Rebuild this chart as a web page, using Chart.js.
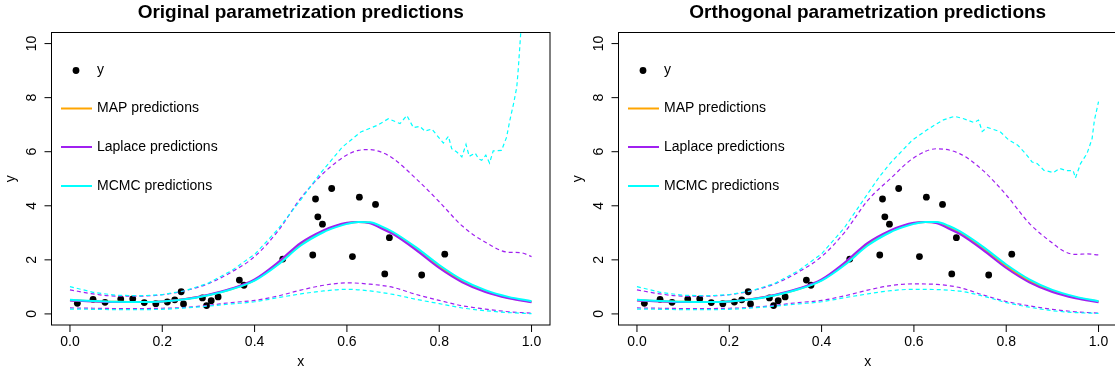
<!DOCTYPE html>
<html>
<head>
<meta charset="utf-8">
<script src="https://cdn.jsdelivr.net/npm/chart.js@4/dist/chart.umd.min.js"></script>
<style>
  html, body { margin: 0; padding: 0; background: #fff; overflow: hidden; }
  #wrap { position: relative; width: 1115px; height: 376px; overflow: hidden; background: #fff; }
  .panel { position: absolute; top: 0; width: 567px; height: 376px; }
</style>
</head>
<body>
<div id="wrap">
  <div class="panel" style="left:0"><canvas id="orig" width="567" height="376"></canvas></div>
  <div class="panel" style="left:567px"><canvas id="orth" width="567" height="376"></canvas></div>
</div>
<script>
// ---- observations ----
const obsX = [0.016, 0.050, 0.076, 0.110, 0.136, 0.161, 0.186, 0.211, 0.227, 0.241,
              0.246, 0.287, 0.296, 0.306, 0.321, 0.367, 0.377, 0.461, 0.526, 0.532,
              0.537, 0.547, 0.567, 0.612, 0.627, 0.662, 0.682, 0.692, 0.762, 0.812];
const obsY = [0.39, 0.54, 0.43, 0.55, 0.56, 0.42, 0.38, 0.44, 0.52, 0.82,
              0.37, 0.59, 0.31, 0.49, 0.63, 1.25, 1.06, 2.03, 2.18, 4.25,
              3.59, 3.32, 4.64, 2.12, 4.32, 4.05, 1.48, 2.82, 1.44, 2.21];

// ---- prediction grids ----
const gridX = [0, 0.05, 0.10, 0.15, 0.20, 0.25, 0.30, 0.35, 0.40, 0.45, 0.50,
               0.55, 0.60, 0.65, 0.70, 0.75, 0.80, 0.85, 0.90, 0.95, 1.00];
const meanX = [0, 0.05, 0.10, 0.15, 0.20, 0.25, 0.30, 0.35, 0.40, 0.45, 0.50, 0.55,
               0.575, 0.60, 0.625, 0.65, 0.675, 0.70, 0.75, 0.80, 0.85, 0.90, 0.95, 1.00];

// ---- original parametrization ----
const origMAP     = [0.51, 0.47, 0.45, 0.44, 0.46, 0.55, 0.70, 0.92, 1.25, 1.85, 2.58, 3.06,
                     3.23, 3.35, 3.40, 3.37, 3.20, 2.99, 2.41, 1.75, 1.21, 0.84, 0.60, 0.45];
const origLaplace = [0.50, 0.46, 0.44, 0.44, 0.46, 0.55, 0.71, 0.94, 1.28, 1.90, 2.63, 3.10,
                     3.26, 3.37, 3.40, 3.35, 3.16, 2.95, 2.36, 1.70, 1.17, 0.81, 0.58, 0.43];
const origMCMC    = [0.52, 0.48, 0.45, 0.44, 0.46, 0.54, 0.69, 0.91, 1.23, 1.81, 2.53, 3.03,
                     3.20, 3.33, 3.40, 3.39, 3.24, 3.03, 2.46, 1.81, 1.26, 0.88, 0.63, 0.47];
const origLaplaceLo = [0.22, 0.21, 0.20, 0.20, 0.21, 0.24, 0.32, 0.42, 0.50, 0.66, 0.88,
                       1.06, 1.15, 1.10, 0.98, 0.72, 0.50, 0.30, 0.18, 0.08, 0.03];
const origMCMCLo    = [0.18, 0.17, 0.16, 0.16, 0.17, 0.22, 0.29, 0.37, 0.45, 0.60, 0.74,
                       0.85, 0.91, 0.85, 0.72, 0.54, 0.38, 0.22, 0.12, 0.05, 0.01];
const origLaplaceHiX = [0, 0.05, 0.10, 0.15, 0.20, 0.25, 0.30, 0.35, 0.40, 0.45, 0.50, 0.55,
                        0.60, 0.625, 0.65, 0.675, 0.70, 0.75, 0.80, 0.85, 0.90, 0.95, 0.975, 1.00];
const origLaplaceHiY = [0.89, 0.74, 0.66, 0.66, 0.71, 0.86, 1.12, 1.55, 2.12, 3.05, 4.28, 5.22,
                        5.88, 6.05, 6.08, 5.98, 5.75, 5.00, 4.15, 3.25, 2.65, 2.28, 2.27, 2.12];
const origMCMCHiX = [0, 0.05, 0.10, 0.15, 0.20, 0.25, 0.30, 0.35, 0.40, 0.45, 0.50, 0.54,
                     0.59, 0.63, 0.665, 0.69, 0.715, 0.73, 0.744, 0.758, 0.769, 0.784, 0.795,
                     0.809, 0.820, 0.827, 0.838, 0.849, 0.858, 0.865, 0.878, 0.885, 0.892,
                     0.901, 0.909, 0.917, 0.935, 0.946, 0.953, 0.961, 0.968, 0.971, 0.974,
                     0.977, 0.99, 1.00];
const origMCMCHiY = [1.01, 0.80, 0.69, 0.67, 0.71, 0.86, 1.14, 1.60, 2.20, 3.12, 4.22, 5.15,
                     6.17, 6.73, 6.97, 7.22, 7.04, 7.34, 6.89, 6.94, 6.76, 6.84, 6.61,
                     6.32, 6.57, 6.11, 5.99, 5.81, 6.27, 5.83, 5.95, 5.74, 5.68,
                     5.87, 5.58, 6.03, 6.05, 6.54, 7.16, 7.77, 8.39, 9.00, 9.74,
                     10.50, 12.50, 13.50];

// ---- orthogonal parametrization ----
const orthMAP     = [0.51, 0.47, 0.45, 0.44, 0.46, 0.55, 0.70, 0.92, 1.25, 1.85, 2.58, 3.06,
                     3.23, 3.35, 3.40, 3.38, 3.22, 3.01, 2.43, 1.77, 1.22, 0.85, 0.61, 0.46];
const orthLaplace = [0.50, 0.46, 0.44, 0.44, 0.46, 0.55, 0.71, 0.94, 1.28, 1.90, 2.63, 3.10,
                     3.26, 3.37, 3.40, 3.35, 3.16, 2.95, 2.36, 1.70, 1.17, 0.81, 0.58, 0.43];
const orthMCMC    = [0.52, 0.48, 0.45, 0.44, 0.46, 0.54, 0.69, 0.91, 1.23, 1.81, 2.53, 3.03,
                     3.20, 3.33, 3.40, 3.40, 3.26, 3.05, 2.48, 1.83, 1.28, 0.89, 0.64, 0.47];
const orthLaplaceLo = [0.22, 0.21, 0.20, 0.20, 0.21, 0.24, 0.32, 0.42, 0.50, 0.67, 0.88,
                       1.05, 1.11, 1.09, 0.97, 0.70, 0.46, 0.30, 0.17, 0.08, 0.03];
const orthMCMCLo    = [0.18, 0.17, 0.16, 0.16, 0.17, 0.22, 0.29, 0.37, 0.45, 0.60, 0.74,
                       0.86, 0.91, 0.90, 0.84, 0.66, 0.42, 0.25, 0.12, 0.05, 0.02];
const orthLaplaceHiX = [0, 0.05, 0.10, 0.15, 0.20, 0.25, 0.30, 0.35, 0.40, 0.45, 0.50, 0.55,
                        0.60, 0.65, 0.70, 0.75, 0.80, 0.85, 0.90, 0.925, 0.95, 0.975, 1.00];
const orthLaplaceHiY = [0.89, 0.74, 0.66, 0.66, 0.71, 0.86, 1.12, 1.55, 2.12, 3.02, 4.20, 5.02,
                        5.78, 6.11, 5.92, 5.30, 4.40, 3.35, 2.62, 2.32, 2.20, 2.22, 2.18];
const orthMCMCHiX = [0, 0.05, 0.10, 0.15, 0.20, 0.25, 0.30, 0.35, 0.40, 0.45, 0.50, 0.525,
                     0.55, 0.596, 0.632, 0.664, 0.688, 0.708, 0.730, 0.740, 0.748, 0.759,
                     0.787, 0.805, 0.825, 0.842, 0.856, 0.867, 0.882, 0.902, 0.916, 0.930,
                     0.945, 0.950, 0.961, 0.975, 0.986, 0.991, 1.00];
const orthMCMCHiY = [1.01, 0.80, 0.69, 0.67, 0.71, 0.86, 1.14, 1.60, 2.22, 3.20, 4.45, 5.07,
                     5.60, 6.42, 6.85, 7.18, 7.31, 7.22, 7.08, 7.17, 6.75, 6.90,
                     6.74, 6.44, 6.24, 5.93, 5.62, 5.56, 5.31, 5.23, 5.38, 5.30,
                     5.30, 5.03, 5.56, 5.93, 6.48, 7.16, 7.85];

// ---- axes ----
const xTicks = [0, 0.2, 0.4, 0.6, 0.8, 1.0];
const xTickLabels = ['0.0', '0.2', '0.4', '0.6', '0.8', '1.0'];
const yTicks = [0, 2, 4, 6, 8, 10];
const yTickLabels = ['0', '2', '4', '6', '8', '10'];
const legendLabels = ['y', 'MAP predictions', 'Laplace predictions', 'MCMC predictions'];

const COL_MAP = '#FFA500';
const COL_LAP = '#A020F0';
const COL_MCMC = '#00FFFF';
const FONT = '"Liberation Sans", Arial, Helvetica, sans-serif';

function pts(xs, ys) { return xs.map((v, i) => ({ x: v, y: ys[i] })); }

function meanLine(xs, ys, color, order) {
  return { type: 'line', data: pts(xs, ys), borderColor: color, borderWidth: 2,
           pointRadius: 0, fill: false, cubicInterpolationMode: 'monotone', order: order };
}
function bandLine(xs, ys, color, order, smooth) {
  return { type: 'line', data: pts(xs, ys), borderColor: color, borderWidth: 1.2,
           borderDash: [4, 3], pointRadius: 0, fill: false,
           cubicInterpolationMode: smooth ? 'monotone' : 'default', tension: 0, order: order };
}

// R-style box, axes, titles and legend
const rPlotDecor = {
  id: 'rPlotDecor',
  afterDraw(chart, args, opts) {
    const { ctx, chartArea: a, scales: { x, y } } = chart;
    ctx.save();
    ctx.strokeStyle = '#000';
    ctx.fillStyle = '#000';
    ctx.lineWidth = 1;
    ctx.setLineDash([]);
    ctx.strokeRect(a.left, a.top, a.right - a.left, a.bottom - a.top);

    ctx.beginPath();
    xTicks.forEach(v => {
      const px = x.getPixelForValue(v);
      ctx.moveTo(px, a.bottom); ctx.lineTo(px, a.bottom + 7);
    });
    yTicks.forEach(v => {
      const py = y.getPixelForValue(v);
      ctx.moveTo(a.left, py); ctx.lineTo(a.left - 7, py);
    });
    ctx.stroke();

    ctx.font = '14px ' + FONT;
    ctx.textAlign = 'center';
    ctx.textBaseline = 'alphabetic';
    xTicks.forEach((v, i) => ctx.fillText(xTickLabels[i], x.getPixelForValue(v), a.bottom + 21));
    yTicks.forEach((v, i) => {
      ctx.save();
      ctx.translate(a.left - 15.5, y.getPixelForValue(v));
      ctx.rotate(-Math.PI / 2);
      ctx.fillText(yTickLabels[i], 0, 0);
      ctx.restore();
    });

    // axis titles
    const cx = (a.left + a.right) / 2;
    const cy = (a.top + a.bottom) / 2;
    ctx.fillText('x', cx, a.bottom + 41);
    ctx.save();
    ctx.translate(a.left - 36.5, cy);
    ctx.rotate(-Math.PI / 2);
    ctx.fillText('y', 0, 0);
    ctx.restore();

    // main title
    ctx.font = 'bold 19px ' + FONT;
    ctx.fillText(opts.title, cx, 17.5);

    // legend
    const rows = [70.5, 108.5, 147, 186];
    const colors = [null, COL_MAP, COL_LAP, COL_MCMC];
    ctx.font = '14px ' + FONT;
    ctx.textAlign = 'left';
    ctx.textBaseline = 'middle';
    rows.forEach((ry, i) => {
      if (i === 0) {
        ctx.beginPath();
        ctx.arc(a.left + 24.5, ry, 3.4, 0, Math.PI * 2);
        ctx.fill();
      } else {
        ctx.beginPath();
        ctx.strokeStyle = colors[i];
        ctx.lineWidth = 2;
        ctx.moveTo(a.left + 9.5, ry); ctx.lineTo(a.left + 40.5, ry);
        ctx.stroke();
      }
      ctx.fillStyle = '#000';
      ctx.fillText(legendLabels[i], a.left + 45.5, ry);
    });
    ctx.restore();
  }
};

function makePanel(id, title, s) {
  const datasets = [
    { type: 'scatter', data: pts(obsX, obsY), backgroundColor: '#000', borderWidth: 0,
      pointRadius: 3.4, showLine: false, order: 9 },
    meanLine(meanX, s.map, COL_MAP, 8),
    meanLine(meanX, s.lap, COL_LAP, 7),
    bandLine(gridX, s.lapLo, COL_LAP, 6, true),
    bandLine(s.lapHiX, s.lapHiY, COL_LAP, 6, true),
    meanLine(meanX, s.mcmc, COL_MCMC, 5),
    bandLine(gridX, s.mcmcLo, COL_MCMC, 4, true),
    bandLine(s.mcmcHiX, s.mcmcHiY, COL_MCMC, 4, false)
  ];
  return new Chart(document.getElementById(id), {
    type: 'line',
    data: { datasets },
    options: {
      responsive: false,
      animation: false,
      devicePixelRatio: 1,
      events: [],
      layout: { padding: { left: 51.5, right: 17, top: 32.5, bottom: 51 } },
      scales: {
        x: { type: 'linear', min: -0.04, max: 1.04, display: false },
        y: { type: 'linear', min: -0.41, max: 10.41, display: false }
      },
      plugins: {
        legend: { display: false },
        tooltip: { enabled: false },
        rPlotDecor: { title }
      }
    },
    plugins: [rPlotDecor]
  });
}

makePanel('orig', 'Original parametrization predictions', {
  map: origMAP, lap: origLaplace, mcmc: origMCMC,
  lapLo: origLaplaceLo, mcmcLo: origMCMCLo,
  lapHiX: origLaplaceHiX, lapHiY: origLaplaceHiY,
  mcmcHiX: origMCMCHiX, mcmcHiY: origMCMCHiY
});
makePanel('orth', 'Orthogonal parametrization predictions', {
  map: orthMAP, lap: orthLaplace, mcmc: orthMCMC,
  lapLo: orthLaplaceLo, mcmcLo: orthMCMCLo,
  lapHiX: orthLaplaceHiX, lapHiY: orthLaplaceHiY,
  mcmcHiX: orthMCMCHiX, mcmcHiY: orthMCMCHiY
});
</script>
</body>
</html>
